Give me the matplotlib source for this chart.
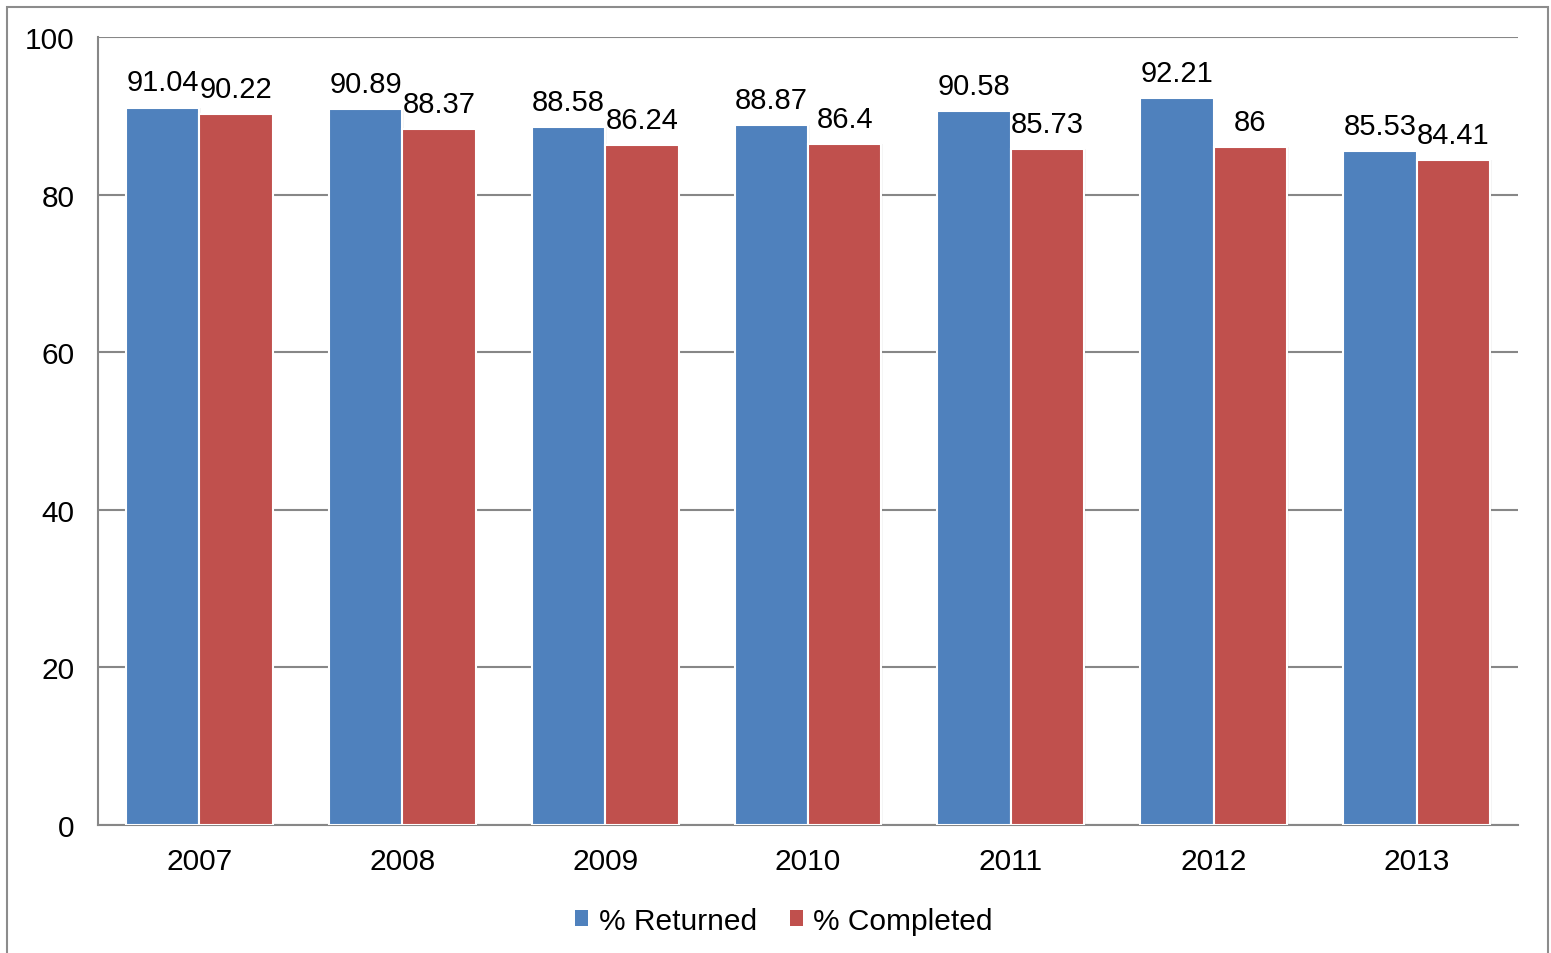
import matplotlib.pyplot as plt
import matplotlib.patches as patches
import numpy as np

plt.rcParams['font.family'] = ['Liberation Sans', 'DejaVu Sans']

# Datos
years = ['2007', '2008', '2009', '2010', '2011', '2012', '2013']
returned = [91.04, 90.89, 88.58, 88.87, 90.58, 92.21, 85.53]
completed = [90.22, 88.37, 86.24, 86.4, 85.73, 86, 84.41]
returned_labels = ['91.04', '90.89', '88.58', '88.87', '90.58', '92.21', '85.53']
completed_labels = ['90.22', '88.37', '86.24', '86.4', '85.73', '86', '84.41']

blue = '#4F81BD'
red = '#C0504D'
grid_col = '#878787'

fig = plt.figure(figsize=(15.51, 9.54), dpi=100)
ax = fig.add_axes([98 / 1551, 1 - 826 / 954, 1420 / 1551, 788 / 954])

# Borde exterior del gráfico
fig.patches.append(patches.Rectangle((7 / 1551, -0.05), 1541 / 1551, 1.05 - 8 / 954,
                                     transform=fig.transFigure, fill=False,
                                     ec='#8c8c8c', lw=1.5, zorder=0))

x = np.arange(len(years))
w = 0.362

# Sombra sutil
for off in (1.5, 3):
    ax.bar(x - w / 2 + off * 0.0025, returned, w, color='#000000', alpha=0.04, zorder=2)
    ax.bar(x + w / 2 + off * 0.0025, completed, w, color='#000000', alpha=0.04, zorder=2)

b1 = ax.bar(x - w / 2, returned, w, color=blue, edgecolor='white', lw=1.5,
            label='% Returned', zorder=3)
b2 = ax.bar(x + w / 2, completed, w, color=red, edgecolor='white', lw=1.5,
            label='% Completed', zorder=3)

for bars, labs in ((b1, returned_labels), (b2, completed_labels)):
    for rect, lab in zip(bars, labs):
        ax.annotate(lab, (rect.get_x() + rect.get_width() / 2, rect.get_height()),
                    xytext=(0, 8), textcoords='offset points',
                    ha='center', va='bottom', fontsize=21, color='black', zorder=4)

ax.set_xlim(-0.5, len(years) - 0.5)
ax.set_ylim(0, 100)
ax.set_yticks([0, 20, 40, 60, 80, 100])
ax.set_xticks(x)
ax.set_xticklabels(years)
ax.tick_params(axis='both', length=0, labelsize=21.5, colors='black')
ax.tick_params(axis='y', pad=17)
ax.tick_params(axis='x', pad=16)
ax.yaxis.grid(True, color=grid_col, lw=1.5, zorder=1)
ax.set_axisbelow(True)

for s in ('right', 'top'):
    ax.spines[s].set_visible(False)
for s in ('left', 'bottom'):
    ax.spines[s].set_color(grid_col)
    ax.spines[s].set_linewidth(1.5)

leg = ax.legend(loc='upper center', bbox_to_anchor=(0.483, -0.07), ncol=2,
                frameon=False, fontsize=21.5, handlelength=0.45, handleheight=0.45,
                handletextpad=0.35, columnspacing=1.1)
for h in leg.legend_handles:
    h.set_edgecolor('none')

fig.savefig('out.png', dpi=100)
